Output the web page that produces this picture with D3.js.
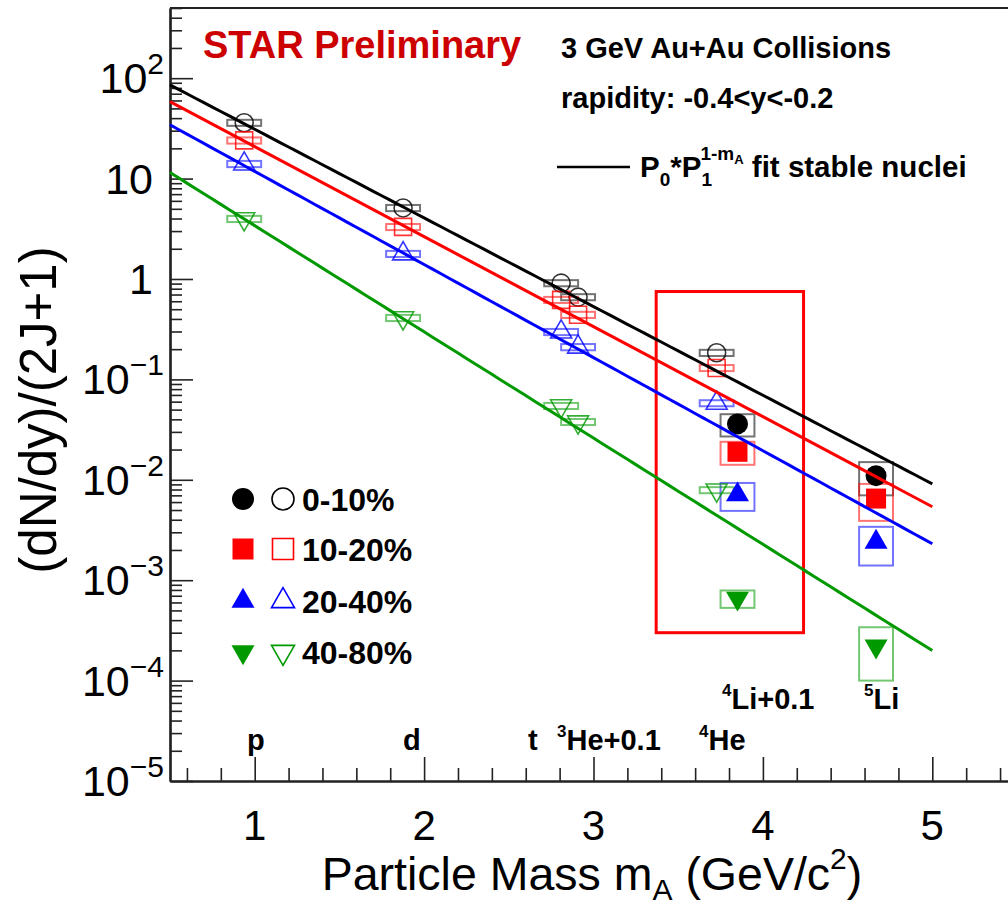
<!DOCTYPE html>
<html>
<head>
<meta charset="utf-8">
<script src="https://cdn.jsdelivr.net/npm/d3@7"></script>
<style>
  body { margin: 0; background: #fff; }
  svg { display: block; font-family: "Liberation Sans", Arial, Helvetica, sans-serif; }
</style>
</head>
<body>
<svg id="chart" width="1008" height="910"></svg>
<script>
// ---- data ---------------------------------------------------------------
// particle masses (GeV/c^2); 3He and 4Li drawn shifted by +0.1
const stableNames = ["p", "d", "t", "3He", "4He"];
const stableMass = [0.938, 1.876, 2.809, 2.909, 3.727];
const unstableNames = ["4Li", "5Li"];
const unstableMass = [3.850, 4.668];

const centralities = ["0-10%", "10-20%", "20-40%", "40-80%"];

// (dN/dy)/(2J+1) of stable nuclei (p, d, t, 3He, 4He)
const stable_0_10 = [36, 5.1, 0.91, 0.66, 0.184];
const stable_10_20 = [24, 3.30, 0.62, 0.44, 0.130];
const stable_20_40 = [14.0, 1.78, 0.297, 0.21, 0.058];
const stable_40_80 = [3.97, 0.41, 0.0545, 0.0377, 0.0079];

// systematic uncertainties of stable nuclei
const stableSys_0_10 = [2.5, 0.36, 0.064, 0.046, 0.013];
const stableSys_10_20 = [1.7, 0.23, 0.043, 0.031, 0.009];
const stableSys_20_40 = [1.0, 0.125, 0.021, 0.015, 0.004];
const stableSys_40_80 = [0.28, 0.029, 0.0038, 0.0026, 0.00055];

// (dN/dy)/(2J+1) of unstable nuclei (4Li, 5Li)
const unstable_0_10 = [0.036, 0.011];
const unstable_10_20 = [0.019, 0.0065];
const unstable_20_40 = [0.0071, 0.0024];
const unstable_40_80 = [6.6e-4, 2.2e-4];

// systematic uncertainties of unstable nuclei
const unstableSys_0_10 = [0.009, 0.004];
const unstableSys_10_20 = [0.0049, 0.0026];
const unstableSys_20_40 = [0.0022, 0.001];
const unstableSys_40_80 = [1.3e-4, 1.2e-4];

// fit P0 * P1^(1 - mA) to stable nuclei, per centrality
const fitP0 = [31.0, 20.8, 11.8, 3.40];
const fitP1 = [7.64, 7.88, 8.46, 11.43];
const fitRange = [0.5, 5.0];

// axis ticks
const xTickValues = [1, 2, 3, 4, 5];
const yDecades = [-5, -4, -3, -2, -1, 0, 1, 2];

// region highlighted around 4Li (mass range, yield range)
const highlightMass = [3.37, 4.24];
const highlightYield = [3.0e-4, 0.75];

// ---- styling ------------------------------------------------------------
const colors = ["#000000", "#ff0000", "#0000ff", "#009900"];
const shapes = ["circle", "square", "triangle", "triangleDown"];
const sysHalfWidth = 0.1;

const stableSeries = [stable_0_10, stable_10_20, stable_20_40, stable_40_80];
const stableSysSeries = [stableSys_0_10, stableSys_10_20, stableSys_20_40, stableSys_40_80];
const unstableSeries = [unstable_0_10, unstable_10_20, unstable_20_40, unstable_40_80];
const unstableSysSeries = [unstableSys_0_10, unstableSys_10_20, unstableSys_20_40, unstableSys_40_80];

const svg = d3.select("#chart");
svg.append("rect").attr("width", 1008).attr("height", 910).attr("fill", "#fff");

const x = d3.scaleLinear().domain([0.5, 5.5]).range([170, 1017]);
const y = d3.scaleLog().domain([1e-5, 500]).range([781, 8]);

function symbolPath(shape, s) {
  if (shape === "circle") return d3.symbol(d3.symbolCircle, Math.PI * s * s / 4)();
  if (shape === "square") return d3.symbol(d3.symbolSquare, s * s)();
  return d3.symbol(d3.symbolTriangle, Math.sqrt(3) / 4 * s * s)();
}
function symbolTransform(shape, px, py) {
  return `translate(${px},${py})` + (shape === "triangleDown" ? " rotate(180)" : "");
}

// ---- frame & axes -------------------------------------------------------
const axisColor = "#222";
svg.append("line").attr("x1", 170).attr("x2", 1017).attr("y1", 8).attr("y2", 8)
  .attr("stroke", axisColor).attr("stroke-width", 2);

// x axis
const xMinor = d3.range(0.6, 5.5, 0.2).filter(v => Math.abs(v - Math.round(v)) > 1e-6);
const gxMinor = svg.append("g").attr("transform", "translate(0,781)")
  .call(d3.axisBottom(x).tickValues(xMinor).tickSize(-13).tickSizeOuter(0).tickFormat(""));
const gx = svg.append("g").attr("transform", "translate(0,781)")
  .call(d3.axisBottom(x).tickValues(xTickValues).tickSize(-24).tickSizeOuter(0).tickFormat(""));
[gxMinor, gx].forEach(g => {
  g.selectAll("line").attr("stroke", axisColor).attr("stroke-width", 1.6);
  g.select(".domain").attr("stroke", axisColor).attr("stroke-width", 2.2);
});
svg.append("g").selectAll("text").data(xTickValues).join("text")
  .attr("x", d => x(d)).attr("y", 840)
  .attr("text-anchor", "middle").attr("font-size", 42).attr("fill", "#000")
  .text(d => d);

// y axis
const yMinor = [];
yDecades.forEach(e => { for (let k = 2; k <= 9; k++) { const v = k * Math.pow(10, e); if (v <= 500) yMinor.push(v); } });
const yMajor = yDecades.map(e => Math.pow(10, e));
const gyMinor = svg.append("g").attr("transform", "translate(170,0)")
  .call(d3.axisLeft(y).tickValues(yMinor).tickSize(-12).tickSizeOuter(0).tickFormat(""));
const gy = svg.append("g").attr("transform", "translate(170,0)")
  .call(d3.axisLeft(y).tickValues(yMajor).tickSize(-23).tickSizeOuter(0).tickFormat(""));
[gyMinor, gy].forEach(g => {
  g.selectAll("line").attr("stroke", axisColor).attr("stroke-width", 1.6);
  g.select(".domain").attr("stroke", axisColor).attr("stroke-width", 2.2);
});
const yLab = svg.append("g").selectAll("text").data(yDecades).join("text")
  .attr("x", d => (d === 0 || d === 1) ? 153 : 164)
  .attr("y", d => y(Math.pow(10, d)) + 15)
  .attr("text-anchor", "end").attr("font-size", 43).attr("fill", "#000");
yLab.each(function(d) {
  const t = d3.select(this);
  if (d === 0) { t.text("1"); return; }
  t.append("tspan").text("10");
  if (d !== 1) {
    t.append("tspan").attr("dy", -19).attr("font-size", 30)
      .text(d < 0 ? "\u2212" + (-d) : String(d));
  }
});

// ---- highlight box ------------------------------------------------------
svg.append("rect")
  .attr("x", x(highlightMass[0])).attr("y", y(highlightYield[1]))
  .attr("width", x(highlightMass[1]) - x(highlightMass[0]))
  .attr("height", y(highlightYield[0]) - y(highlightYield[1]))
  .attr("fill", "none").attr("stroke", "#ff0000").attr("stroke-width", 3);

// ---- systematic boxes ---------------------------------------------------
const plot = svg.append("g");
centralities.forEach((c, i) => {
  const g = plot.append("g");
  const stable = stableMass.map((m, j) => ({ m, v: stableSeries[i][j], s: stableSysSeries[i][j] }));
  const unstable = unstableMass.map((m, j) => ({ m, v: unstableSeries[i][j], s: unstableSysSeries[i][j] }));
  g.selectAll("rect.sys").data(stable.concat(unstable)).join("rect")
    .attr("class", "sys")
    .attr("x", d => x(d.m - sysHalfWidth))
    .attr("width", d => x(d.m + sysHalfWidth) - x(d.m - sysHalfWidth))
    .attr("y", d => y(d.v + d.s))
    .attr("height", d => y(d.v - d.s) - y(d.v + d.s))
    .attr("fill", "none").attr("stroke", colors[i]).attr("stroke-opacity", 0.55).attr("stroke-width", 2);
});

// ---- markers ------------------------------------------------------------
centralities.forEach((c, i) => {
  const g = plot.append("g");
  const stable = stableMass.map((m, j) => ({ m, v: stableSeries[i][j] }));
  const unstable = unstableMass.map((m, j) => ({ m, v: unstableSeries[i][j] }));
  g.selectAll("path.open").data(stable).join("path")
    .attr("class", "open")
    .attr("d", symbolPath(shapes[i], shapes[i] === "circle" ? 18 : (shapes[i] === "square" ? 17 : 21)))
    .attr("transform", d => symbolTransform(shapes[i], x(d.m), y(d.v)))
    .attr("fill", "none").attr("stroke", colors[i]).attr("stroke-opacity", 0.8).attr("stroke-width", 1.6);
  g.selectAll("path.filled").data(unstable).join("path")
    .attr("class", "filled")
    .attr("d", symbolPath(shapes[i], shapes[i] === "circle" ? 21 : (shapes[i] === "square" ? 20 : 23)))
    .attr("transform", d => symbolTransform(shapes[i], x(d.m), y(d.v)))
    .attr("fill", colors[i]);
});

// ---- fit lines ----------------------------------------------------------
const fitMasses = d3.range(fitRange[0], fitRange[1] + 1e-9, 0.05);
const line = d3.line().x(d => x(d[0])).y(d => y(d[1]));
centralities.forEach((c, i) => {
  const pts = fitMasses.map(m => [m, fitP0[i] * Math.pow(fitP1[i], 1 - m)]);
  plot.append("path").attr("d", line(pts))
    .attr("fill", "none").attr("stroke", colors[i]).attr("stroke-width", 3);
});

// ---- particle labels ----------------------------------------------------
const labelRow1 = 750, labelRow2 = 709;
function nucleusLabel(px, py, sup, main) {
  const t = svg.append("text").attr("x", px).attr("y", py)
    .attr("font-size", 29).attr("font-weight", "bold").attr("fill", "#000");
  if (sup) t.append("tspan").attr("font-size", 17).attr("dy", -13).text(sup);
  t.append("tspan").attr("dy", sup ? 13 : 0).text(main);
}
nucleusLabel(247, labelRow1, null, "p");
nucleusLabel(403, labelRow1, null, "d");
nucleusLabel(528, labelRow1, null, "t");
nucleusLabel(557, labelRow1, "3", "He+0.1");
nucleusLabel(699, labelRow1, "4", "He");
nucleusLabel(722, labelRow2, "4", "Li+0.1");
nucleusLabel(864, labelRow2, "5", "Li");

// ---- header texts -------------------------------------------------------
svg.append("text").attr("x", 203).attr("y", 58)
  .attr("font-size", 38).attr("font-weight", "bold").attr("fill", "#cc0000")
  .text("STAR Preliminary");
svg.append("text").attr("x", 561).attr("y", 58)
  .attr("font-size", 29).attr("font-weight", "bold").attr("fill", "#000")
  .text("3 GeV Au+Au Collisions");
svg.append("text").attr("x", 561).attr("y", 108)
  .attr("font-size", 29).attr("font-weight", "bold").attr("fill", "#000")
  .text("rapidity: -0.4<y<-0.2");

// fit legend entry
svg.append("line").attr("x1", 557).attr("x2", 630).attr("y1", 167).attr("y2", 167)
  .attr("stroke", "#000").attr("stroke-width", 2.5);
const fitText = svg.append("text").attr("x", 640).attr("y", 177)
  .attr("font-size", 29.5).attr("font-weight", "bold").attr("fill", "#000");
fitText.append("tspan").text("P");
fitText.append("tspan").attr("dy", 9).attr("font-size", 19).text("0");
fitText.append("tspan").attr("dy", -9).text("*P");
fitText.append("tspan").attr("dy", 9).attr("font-size", 19).text("1");
fitText.append("tspan").attr("dy", -26).attr("dx", -10.5).attr("font-size", 19).text("1-m");
fitText.append("tspan").attr("dy", 4).attr("font-size", 13).text("A");
fitText.append("tspan").attr("dy", 13).text(" fit stable nuclei");

// ---- centrality legend --------------------------------------------------
const legendRows = [499, 549, 601, 652];
centralities.forEach((c, i) => {
  const ly = legendRows[i];
  const s = shapes[i] === "circle" ? 22 : (shapes[i] === "square" ? 21 : 23);
  svg.append("path").attr("d", symbolPath(shapes[i], s))
    .attr("transform", symbolTransform(shapes[i], 243, ly)).attr("fill", colors[i]);
  svg.append("path").attr("d", symbolPath(shapes[i], s))
    .attr("transform", symbolTransform(shapes[i], 283, ly))
    .attr("fill", "none").attr("stroke", colors[i]).attr("stroke-width", 1.6);
  svg.append("text").attr("x", 302).attr("y", ly + 12)
    .attr("font-size", 32).attr("font-weight", "bold").attr("fill", "#000").text(c);
});

// ---- axis titles --------------------------------------------------------
const xt = svg.append("text").attr("x", 592).attr("y", 890)
  .attr("text-anchor", "middle").attr("font-size", 46.5).attr("fill", "#000");
xt.append("tspan").text("Particle Mass m");
xt.append("tspan").attr("dy", 10).attr("font-size", 30).text("A");
xt.append("tspan").attr("dy", -10).text(" (GeV/c");
xt.append("tspan").attr("dy", -21).attr("font-size", 30).text("2");
xt.append("tspan").attr("dy", 21).text(")");

svg.append("text")
  .attr("transform", "translate(56,410) rotate(-90)")
  .attr("text-anchor", "middle").attr("font-size", 51).attr("fill", "#000")
  .text("(dN/dy)/(2J+1)");
</script>
</body>
</html>
